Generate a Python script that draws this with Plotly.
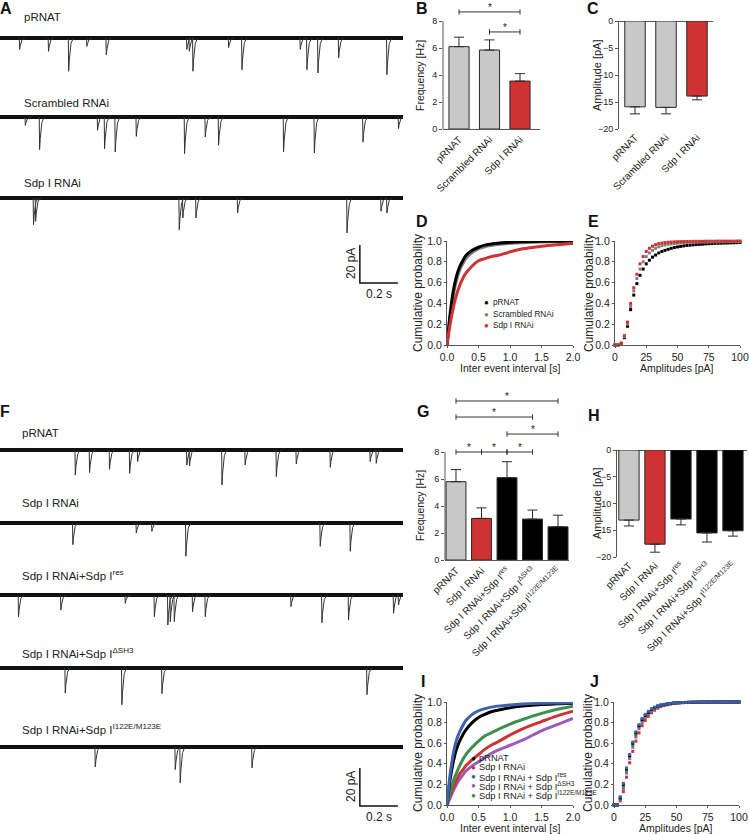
import numpy as np
import plotly.graph_objects as go

W, H = 749, 834
FONT = "Liberation Sans, Arial, sans-serif"

# ---------------- data ----------------
# Panel A example traces: event times (s) and amplitudes (pA)
a_prnat_t = [0.102, 0.254, 0.360, 0.456, 0.558, 0.982, 0.995, 1.014, 1.202, 1.272, 1.579, 1.614, 1.672, 1.781, 2.035]
a_prnat_amp = [6, 7, 17.5, 4.4, 8.8, 6, 7, 17.5, 5, 16.7, 6, 16.7, 18.4, 10.5, 19.3]
a_scr_t = [0.132, 0.207, 0.512, 0.549, 0.605, 0.716, 0.970, 1.079, 1.149, 1.491, 1.653, 1.909, 2.096]
a_scr_amp = [4.4, 17.2, 7, 16.7, 18.4, 10.2, 19.3, 10.5, 14.9, 18.4, 18.9, 13.2, 6.1]
a_sdp_t = [0.175, 0.186, 0.942, 0.961, 1.030, 1.249, 1.825, 2.004, 2.035]
a_sdp_amp = [14, 12.3, 16.7, 10.5, 10.5, 7.9, 18.4, 7, 7.9]

# Panel F example traces
f_prnat_t = [0.395, 0.470, 0.575, 0.681, 0.723, 0.982, 0.996, 1.167, 1.289, 1.453, 1.558, 1.737, 1.947, 1.979]
f_prnat_amp = [13.2, 11.9, 10.2, 12.3, 6.1, 7.9, 8.4, 18.4, 7.9, 14, 7.4, 9.1, 6.1, 7]
f_sdp_t = [0.382, 0.716, 0.798, 0.977, 1.684, 1.842]
f_sdp_amp = [11.4, 5.3, 4.4, 17.5, 12.3, 14.9]
f_res_t = [0.096, 0.319, 0.658, 0.811, 0.882, 0.895, 0.916, 1.012, 1.079, 1.530, 1.693, 1.833, 2.070, 2.096]
f_res_amp = [11.4, 7.9, 4.4, 11.4, 15.8, 14, 14, 8.8, 11.4, 6.1, 14.6, 13.2, 9.6, 5.3]
f_dsh3_t = [0.342, 0.640, 0.851, 1.930]
f_dsh3_amp = [13.2, 19.3, 13.5, 14]
f_mut_t = [0.500, 0.921, 0.947, 1.325]
f_mut_amp = [10.5, 11.9, 18.9, 11]

# Panel B / C
bc_groups = ["pRNAT", "Scrambled RNAi", "Sdp I RNAi"]
b_freq = [6.1, 5.85, 3.55]
b_freq_err = [0.7, 0.75, 0.55]
c_amp = [-15.9, -16.0, -13.9]
c_amp_err = [1.3, 1.2, 0.7]

# Panel G / H
gh_groups = ["pRNAT", "Sdp I RNAi", "Sdp I RNAi+Sdp I<sup>res</sup>",
             "Sdp I RNAi+Sdp I<sup>ΔSH3</sup>", "Sdp I RNAi+Sdp I<sup>I122E/M123E</sup>"]
g_freq = [5.8, 3.08, 6.1, 3.03, 2.46]
g_freq_err = [0.9, 0.78, 1.18, 0.67, 0.86]
h_amp = [-13.1, -17.6, -12.9, -15.5, -15.1]
h_amp_err = [1.1, 1.5, 1.1, 1.7, 1.0]

# Panel D: cumulative inter-event interval
iei_s = [0, 0.05, 0.1, 0.15, 0.2, 0.25, 0.3, 0.4, 0.5, 0.6, 0.7, 0.8, 1.0, 1.2, 1.5, 1.75, 2.0]
d_prnat = [0, 0.30, 0.52, 0.66, 0.75, 0.81, 0.86, 0.91, 0.94, 0.96, 0.97, 0.978, 0.988, 0.993, 0.997, 0.998, 0.999]
d_scr = [0, 0.27, 0.48, 0.62, 0.72, 0.78, 0.83, 0.89, 0.925, 0.945, 0.957, 0.966, 0.977, 0.984, 0.99, 0.993, 0.995]
d_sdp = [0, 0.20, 0.36, 0.48, 0.57, 0.64, 0.69, 0.76, 0.81, 0.83, 0.85, 0.86, 0.895, 0.925, 0.95, 0.965, 0.977]

# Panel I: cumulative inter-event interval
i_prnat = [0, 0.25, 0.42, 0.54, 0.62, 0.68, 0.73, 0.80, 0.85, 0.88, 0.905, 0.92, 0.945, 0.96, 0.975, 0.982, 0.987]
i_sdp = [0, 0.09, 0.17, 0.24, 0.30, 0.34, 0.38, 0.44, 0.49, 0.54, 0.58, 0.61, 0.68, 0.74, 0.81, 0.865, 0.91]
i_res = [0, 0.30, 0.50, 0.63, 0.71, 0.77, 0.82, 0.88, 0.915, 0.935, 0.95, 0.96, 0.972, 0.98, 0.987, 0.99, 0.993]
i_dsh3 = [0, 0.07, 0.14, 0.20, 0.25, 0.29, 0.33, 0.38, 0.42, 0.46, 0.50, 0.53, 0.58, 0.63, 0.72, 0.78, 0.84]
i_mut = [0, 0.12, 0.23, 0.31, 0.38, 0.44, 0.49, 0.56, 0.62, 0.67, 0.70, 0.73, 0.785, 0.83, 0.89, 0.93, 0.96]

# Panel E / J: cumulative amplitude (pA)
amp_pa = [0, 2.5, 5, 7.5, 10, 12.5, 15, 17.5, 20, 22.5, 25, 27.5, 30, 32.5, 35, 37.5, 40, 42.5, 45, 47.5,
          50, 52.5, 55, 57.5, 60, 62.5, 65, 67.5, 70, 72.5, 75, 77.5, 80, 82.5, 85, 87.5, 90, 92.5, 95, 97.5, 100]
e_prnat = [0, 0, 0.01, 0.07, 0.18, 0.34, 0.48, 0.59, 0.67, 0.73, 0.78, 0.815, 0.845, 0.865, 0.885, 0.90, 0.91, 0.92, 0.93, 0.937,
           0.943, 0.948, 0.953, 0.957, 0.96, 0.963, 0.966, 0.968, 0.97, 0.972, 0.974, 0.975, 0.977, 0.978, 0.979, 0.98, 0.981, 0.982, 0.983, 0.984, 0.985]
e_scr = [0, 0, 0.015, 0.08, 0.20, 0.37, 0.52, 0.64, 0.73, 0.80, 0.85, 0.885, 0.91, 0.93, 0.945, 0.955, 0.962, 0.968, 0.973, 0.977,
         0.98, 0.982, 0.984, 0.985, 0.986, 0.987, 0.988, 0.989, 0.99, 0.99, 0.991, 0.991, 0.992, 0.992, 0.993, 0.993, 0.994, 0.994, 0.995, 0.995, 0.995]
e_sdp = [0, 0, 0.02, 0.09, 0.22, 0.40, 0.55, 0.68, 0.78, 0.85, 0.90, 0.93, 0.95, 0.965, 0.975, 0.98, 0.985, 0.988, 0.99, 0.992,
         0.993, 0.994, 0.995, 0.995, 0.996, 0.996, 0.997, 0.997, 0.997, 0.998, 0.998, 0.998, 0.998, 0.999, 0.999, 0.999, 0.999, 0.999, 0.999, 1.0, 1.0]
j_prnat = [0, 0, 0.07, 0.20, 0.35, 0.48, 0.60, 0.70, 0.77, 0.83, 0.87, 0.90, 0.93, 0.945, 0.96, 0.97, 0.975, 0.98, 0.985, 0.99,
           0.992, 0.994, 0.995, 0.996, 0.997, 0.998, 0.998, 0.999, 0.999, 0.999, 1.0, 1.0, 1.0, 1.0, 1.0, 1.0, 1.0, 1.0, 1.0, 1.0, 1.0]
j_sdp = [0, 0, 0.04, 0.13, 0.27, 0.41, 0.52, 0.62, 0.70, 0.77, 0.82, 0.86, 0.895, 0.92, 0.94, 0.955, 0.965, 0.973, 0.98, 0.985,
         0.989, 0.992, 0.994, 0.995, 0.996, 0.997, 0.998, 0.998, 0.999, 0.999, 0.999, 1.0, 1.0, 1.0, 1.0, 1.0, 1.0, 1.0, 1.0, 1.0, 1.0]
j_res = [0, 0, 0.08, 0.21, 0.36, 0.49, 0.61, 0.71, 0.78, 0.84, 0.88, 0.91, 0.935, 0.95, 0.963, 0.972, 0.978, 0.983, 0.987, 0.99,
         0.992, 0.994, 0.995, 0.996, 0.997, 0.998, 0.998, 0.999, 0.999, 0.999, 1.0, 1.0, 1.0, 1.0, 1.0, 1.0, 1.0, 1.0, 1.0, 1.0, 1.0]
j_dsh3 = [0, 0, 0.05, 0.16, 0.31, 0.45, 0.56, 0.66, 0.74, 0.80, 0.85, 0.885, 0.91, 0.935, 0.95, 0.963, 0.972, 0.978, 0.983, 0.987,
          0.99, 0.992, 0.994, 0.995, 0.996, 0.997, 0.998, 0.998, 0.999, 0.999, 0.999, 1.0, 1.0, 1.0, 1.0, 1.0, 1.0, 1.0, 1.0, 1.0, 1.0]
j_mut = [0, 0, 0.06, 0.18, 0.33, 0.47, 0.58, 0.68, 0.76, 0.82, 0.865, 0.895, 0.92, 0.94, 0.955, 0.966, 0.974, 0.98, 0.985, 0.988,
         0.991, 0.993, 0.994, 0.995, 0.996, 0.997, 0.998, 0.998, 0.999, 0.999, 1.0, 1.0, 1.0, 1.0, 1.0, 1.0, 1.0, 1.0, 1.0, 1.0, 1.0]

d_legend = ["pRNAT", "Scrambled RNAi", "Sdp I RNAi"]
i_legend = ["pRNAT", "Sdp I RNAi", "Sdp I RNAi + Sdp I<sup>res</sup>",
            "Sdp I RNAi + Sdp I<sup>ΔSH3</sup>", "Sdp I RNAi + Sdp I<sup>I122E/M123E</sup>"]

# ---------------- style ----------------
GREY = "#c8c8c8"
RED = "#cf3232"
BLACK = "#000000"
DGREY = "#808080"
BLUE = "#3f61ae"
PURPLE = "#9a5cbf"
GREEN = "#3e8e4f"
AX = "#555555"
TXT = "#222222"


def px_x(px):
    return px / W


def px_y(py):
    return 1 - py / H


def dom_x(a, b):
    return [a / W, b / W]


def dom_y(top, bottom):
    return [1 - bottom / H, 1 - top / H]


fig = go.Figure()
annotations = []
shapes = []


def ann(x, y, text, size=11, bold=False, xanchor="center", yanchor="middle", angle=0, color=TXT, align="left"):
    annotations.append(dict(
        x=px_x(x), y=px_y(y), xref="paper", yref="paper", text=(f"<b>{text}</b>" if bold else text),
        showarrow=False, xanchor=xanchor, yanchor=yanchor, textangle=angle, align=align,
        font=dict(family=FONT, size=size, color=color)))


# ---------- traces (A and F) ----------
dt = np.linspace(0, 0.03, 45)
kern = (1 - np.exp(-dt / 0.0006)) * np.exp(-dt / 0.0065)
kern = kern / kern.max()
T_END = 403 / 190.0


def add_trace_row(times, amps, base, xa, ya):
    xs, ys = [], []
    for t0, a in zip(times, amps):
        xs += [t0 - 0.0005] + list(t0 + dt) + [None]
        ys += [base] + list(base - a * kern) + [None]
    fig.add_trace(go.Scatter(x=[0, T_END], y=[base, base], mode="lines", xaxis=xa, yaxis=ya,
                             line=dict(color="#111111", width=4), hoverinfo="skip"))
    fig.add_trace(go.Scatter(x=xs, y=ys, mode="lines", xaxis=xa, yaxis=ya,
                             line=dict(color="#333333", width=1), hoverinfo="skip"))


def add_scalebar(x0, y0, xa, ya):
    fig.add_trace(go.Scatter(x=[x0, x0, x0 + 0.2], y=[y0, y0 - 20, y0 - 20], mode="lines",
                             xaxis=xa, yaxis=ya, line=dict(color="#111111", width=1.5), hoverinfo="skip"))


PXPA = 1.9  # pixels per pA in traces


def a_val(py):
    return -(py - 20) / PXPA


add_trace_row(a_prnat_t, a_prnat_amp, a_val(38), "x", "y")
add_trace_row(a_scr_t, a_scr_amp, a_val(117), "x", "y")
add_trace_row(a_sdp_t, a_sdp_amp, a_val(198), "x", "y")
add_scalebar(1.894, a_val(245), "x", "y")


def f_val(py):
    return -(py - 420) / PXPA


add_trace_row(f_prnat_t, f_prnat_amp, f_val(450), "x6", "y6")
add_trace_row(f_sdp_t, f_sdp_amp, f_val(523), "x6", "y6")
add_trace_row(f_res_t, f_res_amp, f_val(595), "x6", "y6")
add_trace_row(f_dsh3_t, f_dsh3_amp, f_val(668), "x6", "y6")
add_trace_row(f_mut_t, f_mut_amp, f_val(747), "x6", "y6")
add_scalebar(1.894, f_val(768), "x6", "y6")

# trace labels
ann(22, 17, "pRNAT", 11.5, xanchor="left")
ann(22, 103, "Scrambled RNAi", 11.5, xanchor="left")
ann(22, 183, "Sdp I RNAi", 11.5, xanchor="left")
ann(20, 433, "pRNAT", 11.5, xanchor="left")
ann(20, 503, "Sdp I RNAi", 11.5, xanchor="left")
ann(20, 575, "Sdp I RNAi+Sdp I<sup>res</sup>", 11.5, xanchor="left")
ann(20, 653, "Sdp I RNAi+Sdp I<sup>ΔSH3</sup>", 11.5, xanchor="left")
ann(20, 729, "Sdp I RNAi+Sdp I<sup>I122E/M123E</sup>", 11.5, xanchor="left")
# scale bar labels
for ylab in (264, 787):
    ann(351, ylab, "20 pA", 12, angle=-90)
    ann(379, ylab + 30, "0.2 s", 12)


# ---------- bar charts ----------
def bars(vals, errs, colors, xa, ya, negative=False):
    n = len(vals)
    zeros = [0] * n
    fig.add_trace(go.Bar(
        x=list(range(n)), y=vals, xaxis=xa, yaxis=ya, width=0.66 if n == 3 else 0.78,
        marker=dict(color=colors, line=dict(color="#2a2a2a", width=1)),
        error_y=dict(type="data", symmetric=False,
                     array=(zeros if negative else errs), arrayminus=(errs if negative else zeros),
                     color="#2a2a2a", thickness=1, width=5),
        hoverinfo="skip"))


bars(b_freq, b_freq_err, [GREY, GREY, RED], "x2", "y2")
bars(c_amp, c_amp_err, [GREY, GREY, RED], "x3", "y3", negative=True)
bars(g_freq, g_freq_err, [GREY, RED, BLACK, BLACK, BLACK], "x7", "y7")
bars(h_amp, h_amp_err, [GREY, RED, BLACK, BLACK, BLACK], "x8", "y8", negative=True)

# significance brackets
b_sig = [(0, 2, 8.67), (1, 2, 7.19)]
g_sig = [(0, 1, 8.0), (1, 2, 8.0), (2, 3, 8.0), (2, 4, 9.33), (0, 3, 10.59), (0, 4, 11.78)]


def brackets(sig, xa, ya, cap, star_off):
    for i, j, lev in sig:
        shapes.append(dict(type="line", xref=xa, yref=ya, x0=i, x1=j, y0=lev, y1=lev,
                           line=dict(color="#333333", width=1)))
        for xx in (i, j):
            shapes.append(dict(type="line", xref=xa, yref=ya, x0=xx, x1=xx, y0=lev - cap, y1=lev + cap,
                               line=dict(color="#333333", width=1)))
        annotations.append(dict(x=(i + j) / 2, y=lev + star_off, xref=xa, yref=ya, text="*", showarrow=False,
                                font=dict(family=FONT, size=10, color=TXT), yanchor="middle"))


brackets(b_sig, "x2", "y2", 0.2, 0.35)
brackets(g_sig, "x7", "y7", 0.2, 0.35)

# y-axis lines for B and G (0..8 only)
shapes.append(dict(type="line", xref="paper", yref="paper", x0=px_x(443), x1=px_x(443),
                   y0=px_y(129), y1=px_y(21), line=dict(color=AX, width=1)))
shapes.append(dict(type="line", xref="paper", yref="paper", x0=px_x(445), x1=px_x(445),
                   y0=px_y(560), y1=px_y(452), line=dict(color=AX, width=1)))

# ---------- cumulative curves ----------
for ys, col in [(d_scr, DGREY), (d_prnat, BLACK), (d_sdp, RED)]:
    fig.add_trace(go.Scatter(x=iei_s, y=ys, mode="lines", line=dict(color=col, width=3, shape="spline"),
                             xaxis="x4", yaxis="y4", hoverinfo="skip"))
for ys, col in [(i_dsh3, PURPLE), (i_sdp, RED), (i_mut, GREEN), (i_prnat, BLACK), (i_res, BLUE)]:
    fig.add_trace(go.Scatter(x=iei_s, y=ys, mode="lines", line=dict(color=col, width=3, shape="spline"),
                             xaxis="x9", yaxis="y9", hoverinfo="skip"))
for ys, col in [(e_prnat, BLACK), (e_scr, DGREY), (e_sdp, RED)]:
    fig.add_trace(go.Scatter(x=amp_pa, y=ys, mode="markers", marker=dict(color=col, size=3, symbol="square"),
                             xaxis="x5", yaxis="y5", hoverinfo="skip", cliponaxis=False))
for ys, col in [(j_sdp, RED), (j_dsh3, PURPLE), (j_mut, GREEN), (j_prnat, BLACK), (j_res, BLUE)]:
    fig.add_trace(go.Scatter(x=amp_pa, y=ys, mode="markers", marker=dict(color=col, size=3, symbol="square"),
                             xaxis="x10", yaxis="y10", hoverinfo="skip", cliponaxis=False))

# legends (one row per entry)
for k, (lab, col) in enumerate(zip(d_legend, [BLACK, DGREY, RED])):
    yy = 303 + 11 * k
    ann(486, yy, "●", 8, color=col)
    ann(491, yy, lab, 8.2, xanchor="left")
for k, (lab, col) in enumerate(zip(i_legend, [BLACK, RED, BLUE, PURPLE, GREEN])):
    yy = 758 + 9.3 * k
    ann(473, yy, "●", 8, color=col)
    ann(477, yy, lab, 9.3, xanchor="left")

# axis titles
ann(420, 75, "Frequency [Hz]", 10.5, angle=-90)
ann(597, 75, "Amplitude [pA]", 11, angle=-90)
ann(418, 293, "Cumulative probability", 12, angle=-90)
ann(510, 368, "Inter event interval [s]", 10.5)
ann(589, 293, "Cumulative probability", 12, angle=-90)
ann(677, 368, "Amplitudes [pA]", 10.5)
ann(420, 505, "Frequency [Hz]", 10.5, angle=-90)
ann(597, 503, "Amplitude [pA]", 11, angle=-90)
ann(418, 753, "Cumulative probability", 12, angle=-90)
ann(510, 828, "Inter event interval [s]", 10.5)
ann(588, 753, "Cumulative probability", 12, angle=-90)
ann(676, 828, "Amplitudes [pA]", 10.5)

# panel letters
for letter, x, y in [("A", 6, 8), ("B", 422, 8), ("C", 593, 8), ("D", 422, 221), ("E", 593, 221),
                     ("F", 5, 411), ("G", 423, 411), ("H", 594, 415), ("I", 423, 681), ("J", 594, 681)]:
    ann(x, y, letter, 16, bold=True, color="#111111")

# ---------- axes ----------
tf_small = dict(family=FONT, size=9, color=TXT)
tf_cat = dict(family=FONT, size=10, color=TXT)
tf_big = dict(family=FONT, size=10.5, color=TXT)

layout_axes = {}
layout_axes["xaxis"] = dict(domain=dom_x(0, 403), range=[0, T_END], visible=False)
layout_axes["yaxis"] = dict(domain=dom_y(20, 300), range=[a_val(300), 0], visible=False)
layout_axes["xaxis6"] = dict(domain=dom_x(0, 403), range=[0, T_END], visible=False, anchor="y6")
layout_axes["yaxis6"] = dict(domain=dom_y(420, 820), range=[f_val(820), 0], visible=False, anchor="x6")

layout_axes["xaxis2"] = dict(domain=dom_x(443, 540), range=[-0.525, 2.656], anchor="y2",
                             tickvals=[0, 1, 2], ticktext=bc_groups, tickangle=-45, ticks="",
                             showline=True, linecolor=AX, linewidth=1, tickfont=tf_cat, showgrid=False, zeroline=False)
layout_axes["yaxis2"] = dict(domain=dom_y(0, 129), range=[0, 129 / 13.5], anchor="x2",
                             tickvals=[0, 2, 4, 6, 8], ticks="outside", ticklen=3, tickcolor=AX,
                             showline=False, tickfont=tf_small, showgrid=False, zeroline=False)
layout_axes["xaxis3"] = dict(domain=dom_x(619, 713), range=[-0.516, 2.516], anchor="y3",
                             tickvals=[0, 1, 2], ticktext=bc_groups, tickangle=-45, ticks="",
                             showline=False, tickfont=tf_cat, showgrid=False, zeroline=False)
layout_axes["yaxis3"] = dict(domain=dom_y(21, 129), range=[-20, 0], anchor="x3",
                             tickvals=[0, -5, -10, -15, -20], ticks="outside", ticklen=3, tickcolor=AX,
                             showline=True, linecolor=AX, tickfont=tf_small, showgrid=False,
                             zeroline=True, zerolinecolor=AX, zerolinewidth=1)
layout_axes["xaxis7"] = dict(domain=dom_x(445, 569), range=[-0.431, 4.43], anchor="y7",
                             tickvals=[0, 1, 2, 3, 4], ticktext=gh_groups, tickangle=-45, ticks="",
                             showline=True, linecolor=AX, linewidth=1, tickfont=tf_cat, showgrid=False, zeroline=False)
layout_axes["yaxis7"] = dict(domain=dom_y(395, 560), range=[0, 165 / 13.5], anchor="x7",
                             tickvals=[0, 2, 4, 6, 8], ticks="outside", ticklen=3, tickcolor=AX,
                             showline=False, tickfont=tf_small, showgrid=False, zeroline=False)
layout_axes["xaxis8"] = dict(domain=dom_x(617, 747), range=[-0.46, 4.54], anchor="y8",
                             tickvals=[0, 1, 2, 3, 4], ticktext=gh_groups, tickangle=-45, ticks="",
                             showline=False, tickfont=tf_cat, showgrid=False, zeroline=False)
layout_axes["yaxis8"] = dict(domain=dom_y(450, 557), range=[-20, 0], anchor="x8",
                             tickvals=[0, -5, -10, -15, -20], ticks="outside", ticklen=3, tickcolor=AX,
                             showline=True, linecolor=AX, tickfont=tf_small, showgrid=False,
                             zeroline=True, zerolinecolor=AX, zerolinewidth=1)


def cum_axes(xn, yn, xd, yd, xr, xtv, xfmt):
    layout_axes["xaxis" + xn] = dict(domain=xd, range=xr, anchor="y" + yn, tickvals=xtv, tickformat=xfmt,
                                     ticks="outside", ticklen=2, tickcolor=AX, showline=True, linecolor=AX,
                                     tickfont=tf_big, showgrid=False, zeroline=False)
    layout_axes["yaxis" + yn] = dict(domain=yd, range=[0, 1.0], anchor="x" + xn,
                                     tickvals=[0, 0.2, 0.4, 0.6, 0.8, 1.0], tickformat=".1f",
                                     ticks="outside", ticklen=2, tickcolor=AX, showline=True, linecolor=AX,
                                     tickfont=tf_big, showgrid=False, zeroline=False)


cum_axes("4", "4", dom_x(447, 573), dom_y(241, 345), [0, 2], [0, 0.5, 1, 1.5, 2], ".1f")
cum_axes("5", "5", dom_x(615, 740), dom_y(241, 345), [0, 100], [0, 25, 50, 75, 100], "d")
cum_axes("9", "9", dom_x(447, 573), dom_y(702, 805), [0, 2], [0, 0.5, 1, 1.5, 2], ".1f")
cum_axes("10", "10", dom_x(614, 739), dom_y(702, 805), [0, 100], [0, 25, 50, 75, 100], "d")

for k in layout_axes:
    layout_axes[k]["automargin"] = False

fig.update_layout(
    template="none",
    width=W, height=H, margin=dict(l=0, r=0, t=0, b=0, pad=0),
    paper_bgcolor="white", plot_bgcolor="white", showlegend=False,
    font=dict(family=FONT, color=TXT), bargap=0,
    annotations=annotations, shapes=shapes, **layout_axes)

fig.write_html("out.html", config={"displayModeBar": False, "staticPlot": True},
               post_script="document.body.style.margin='0';document.body.style.overflow='hidden';")
